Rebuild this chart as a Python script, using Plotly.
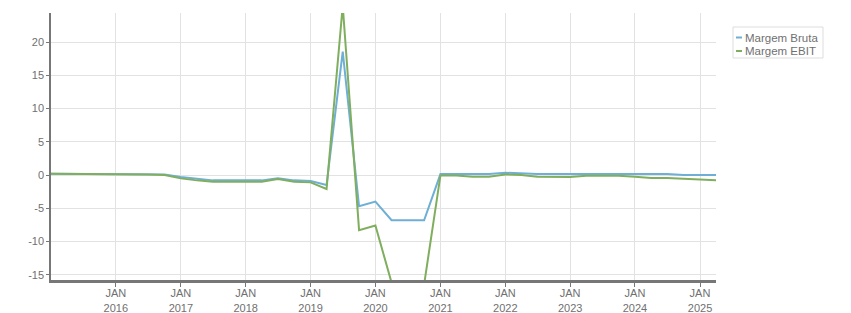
import plotly.graph_objects as go

dates = [
    "2015-01-01", "2015-04-01", "2015-07-01", "2015-10-01",
    "2016-01-01", "2016-04-01", "2016-07-01", "2016-10-01",
    "2017-01-01", "2017-04-01", "2017-07-01", "2017-10-01",
    "2018-01-01", "2018-04-01", "2018-07-01", "2018-10-01",
    "2019-01-01", "2019-04-01", "2019-07-01", "2019-10-01",
    "2020-01-01", "2020-04-01", "2020-07-01", "2020-10-01",
    "2021-01-01", "2021-04-01", "2021-07-01", "2021-10-01",
    "2022-01-01", "2022-04-01", "2022-07-01", "2022-10-01",
    "2023-01-01", "2023-04-01", "2023-07-01", "2023-10-01",
    "2024-01-01", "2024-04-01", "2024-07-01", "2024-10-01",
    "2025-01-01", "2025-04-01",
]

margem_bruta = [
    0.2, 0.2, 0.2, 0.2,
    0.2, 0.2, 0.2, 0.1,
    -0.3, -0.6, -0.8, -0.8,
    -0.8, -0.8, -0.5, -0.8,
    -0.9, -1.5, 18.6, -4.7,
    -4.0, -6.8, -6.8, -6.8,
    0.15, 0.15, 0.15, 0.15,
    0.35, 0.2, 0.15, 0.15,
    0.15, 0.15, 0.15, 0.15,
    0.15, 0.15, 0.15, 0.0,
    0.0, 0.0,
]

margem_ebit = [
    0.2, 0.2, 0.2, 0.2,
    0.15, 0.1, 0.1, 0.0,
    -0.5, -0.8, -1.0, -1.0,
    -1.0, -1.0, -0.6, -1.0,
    -1.1, -2.1, 25.5, -8.3,
    -7.6, -16.2, -16.5, -16.5,
    -0.05, -0.05, -0.25, -0.25,
    0.1, 0.0, -0.25, -0.3,
    -0.3, -0.1, -0.1, -0.1,
    -0.25, -0.45, -0.45, -0.6,
    -0.75, -0.8,
]

series_names = ["Margem Bruta", "Margem EBIT"]
series_colors = ["#6fafd6", "#80ae5f"]

x_tick_vals = ["2016-01-01", "2017-01-01", "2018-01-01", "2019-01-01", "2020-01-01",
               "2021-01-01", "2022-01-01", "2023-01-01", "2024-01-01", "2025-01-01"]
x_tick_text = ["JAN<br>" + v[:4] for v in x_tick_vals]

y_tick_vals = [-15, -10, -5, 0, 5, 10, 15, 20]
y_tick_text = [str(v) for v in y_tick_vals]

font_family = "Liberation Sans, Arial, sans-serif"
text_color = "#707070"

PL, PR, PT, PB = 51, 716, 13, 280
PW, PH = PR - PL, PB - PT

def px(x):
    return (x - PL) / PW

def py(y):
    return (PB - y) / PH

fig = go.Figure()
for name, vals, col in zip(series_names, [margem_bruta, margem_ebit], series_colors):
    fig.add_trace(go.Scatter(
        x=dates, y=vals, mode="lines", name=name,
        line=dict(color=col, width=2), showlegend=False,
    ))

fig.update_layout(
    width=851, height=313,
    margin=dict(l=PL, r=851 - PR, t=PT, b=313 - PB, autoexpand=False),
    paper_bgcolor="white", plot_bgcolor="white",
    font=dict(family=font_family, size=11, color=text_color),
)

fig.update_xaxes(
    type="date", automargin=False,
    range=["2015-01-01", "2025-04-01"],
    tickvals=x_tick_vals, ticktext=x_tick_text,
    showgrid=True, gridcolor="#e2e2e2", gridwidth=1,
    showline=True, linecolor="#777777", linewidth=3,
    ticks="outside", ticklen=4, tickcolor="#777777", tickwidth=1,
    ticklabelstandoff=-3,
    zeroline=False,
)
fig.update_yaxes(
    automargin=False,
    range=[-15.8, 24.4],
    tickvals=y_tick_vals, ticktext=y_tick_text,
    showgrid=True, gridcolor="#e2e2e2", gridwidth=1,
    showline=True, linecolor="#777777", linewidth=1.5,
    ticks="outside", ticklen=3, tickcolor="#777777", tickwidth=1,
    zeroline=False,
)

# Legend drawn as a bordered box with coloured dashes and text entries
fig.add_shape(type="rect", xref="paper", yref="paper",
              x0=px(733), x1=px(823), y0=py(58), y1=py(27),
              line=dict(color="#dddddd", width=1), fillcolor="white")
for i, (name, col) in enumerate(zip(series_names, series_colors)):
    yc = 37.5 + i * 13.5
    fig.add_shape(type="line", xref="paper", yref="paper",
                  x0=px(736), x1=px(742), y0=py(yc), y1=py(yc),
                  line=dict(color=col, width=2))
    fig.add_annotation(
        xref="paper", yref="paper",
        x=px(743), y=py(yc),
        xanchor="left", yanchor="middle", showarrow=False,
        text=name,
        font=dict(family=font_family, size=11.5, color=text_color),
    )

fig.write_html("out.html")
